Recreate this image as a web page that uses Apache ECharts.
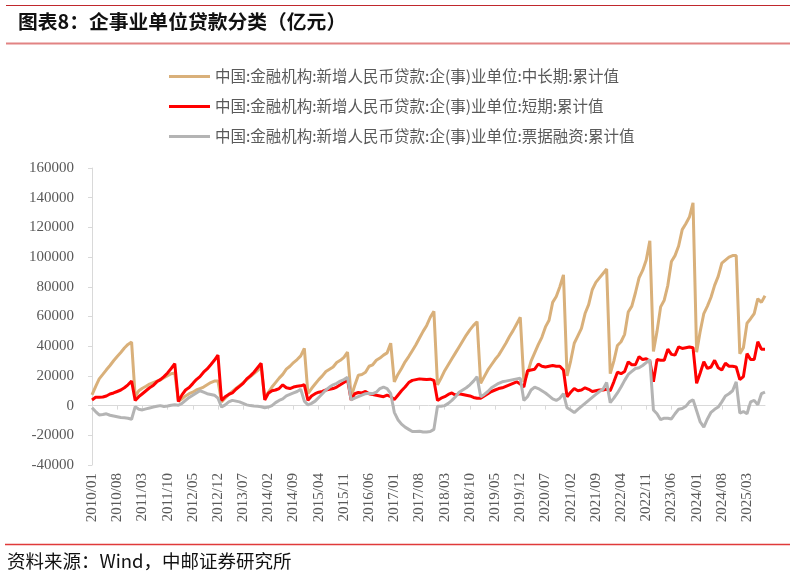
<!DOCTYPE html>
<html>
<head>
<meta charset="utf-8">
<script src="https://cdn.jsdelivr.net/npm/echarts@6/dist/echarts.min.js"></script>
<style>
html,body{margin:0;padding:0;background:#fff;}
#chart{width:796px;height:579px;}
</style>
</head>
<body>
<div id="chart"></div>
<script>
// ---- data (亿元), monthly cumulative, 2010/01 - 2025/08 ----
var startYear = 2010, endYear = 2025, endMonth = 8;
var categories = [];
for (var y = startYear; y <= endYear; y++) {
  for (var m = 1; m <= 12; m++) {
    if (y === endYear && m > endMonth) break;
    categories.push(y + '/' + (m < 10 ? '0' + m : m));
  }
}

var longTerm = [
  7200, 12800, 18000, 21000, 24100, 27000, 30200, 33100, 35800, 38800, 41200, 42800,
  6000, 10000, 11700, 13000, 14500, 15500, 16500, 17300, 18800, 20200, 21500, 22000,
  3000, 4500, 6500, 8000, 9000, 10500, 11500, 12500, 14000, 15500, 16500, 16500,
  2500, 5000, 7500, 9500, 11500, 13500, 15500, 17500, 19500, 21500, 23500, 26000,
  5000, 9000, 12500, 15500, 18500, 21000, 24500, 26500, 29000, 31000, 33500, 38500,
  8000, 11500, 14500, 17500, 20000, 23000, 24500, 26000, 29000, 30500, 32500, 36000,
  6000, 13500, 20500, 21000, 22500, 26500, 27500, 30500, 32000, 34000, 35500, 42000,
  16000, 21000, 25000, 29500, 33000, 37000, 41000, 45500, 50000, 54000, 59500, 63500,
  14000, 18500, 23500, 27500, 31500, 35500, 39500, 43500, 47500, 51000, 54000, 56500,
  15000, 19500, 24000, 27500, 31000, 34000, 38000, 42000, 46500, 50500, 55000, 59500,
  16000, 21500, 30000, 35500, 41000, 46000, 53000, 57500, 69500, 73500, 80000, 88000,
  20000, 30000, 42000, 47000, 52000, 62000, 68000, 78000, 83000, 86000, 89000, 92000,
  21500, 30000, 40500, 43000, 48000, 63000, 67000, 76000, 86000, 91000, 98000, 111000,
  36500, 50000, 66500, 71000, 81000, 97000, 101000, 107500, 118500, 122500, 127000, 136500,
  36000, 50000, 62000, 67000, 73000, 81000, 87000, 96000, 98000, 100000, 101000, 101000,
  35000, 39000, 55500, 58500, 62000, 72000, 69500, 74000
];

var shortTerm = [
  3800, 5600, 5600, 5800, 6500, 7800, 8500, 9500, 10500, 12000, 14000, 16500,
  3400, 6000, 8000, 10000, 12000, 13500, 16000, 17500, 19500, 22000, 25000, 28200,
  2700, 7200, 10500, 12200, 14800, 17500, 19500, 22500, 24700, 27500, 30500, 34000,
  3400, 6000, 7500, 8500, 11000, 13000, 15000, 18000, 20000, 22500, 25500, 28500,
  3800, 8300, 10000, 10500, 11500, 14000, 12000, 11500, 12500, 13000, 13300, 14000,
  3500, 6500, 8000, 9000, 9500, 10500, 11000, 11500, 12500, 14000, 15500, 17500,
  3800, 8000, 8800, 8500, 9500, 8000, 7500, 7000, 6500, 6000, 7000, 6000,
  4000, 7000, 10000, 12500, 15500, 17000, 17500, 18000, 17800, 17500, 17800, 17000,
  3500, 5000, 6000, 7500, 8500, 7000, 8000, 7500, 7000, 6500, 5500, 5000,
  5000, 6500, 8000, 9500, 10500, 11500, 12000, 13000, 14000, 15000, 16000, 14500,
  12500, 23500, 24000, 24500, 28000, 26500, 26000, 26500, 27000, 26500, 26500, 24000,
  6000, 9000, 11500, 10000, 10500, 12000, 11000, 9500, 10000, 10500, 10500, 11000,
  10000, 16000, 22500, 21500, 23000, 29500, 27500, 27500, 33000, 31000, 31500, 30000,
  16000, 31000, 30500, 30500, 38000, 34500, 34000, 39500, 38500, 39000, 39500, 39000,
  15000, 22000, 29500, 25000, 26000, 30500, 25500, 24000, 28500, 26500, 26500, 26000,
  17500, 19500, 35000, 31000, 31000, 43000, 38000, 38000
];

var billFinancing = [
  -1400, -4000, -6300, -6000, -5500, -6500, -7000, -7500, -8000, -8200, -8500, -9200,
  -700, -2500, -2900, -2200, -1600, -1000, -500, 0, -600, -300, 200, 500,
  200, 1500, 3500, 5500, 7000, 8500, 10000, 9000, 8000, 7500, 7000, 5000,
  -1000, 500, 2500, 3500, 3000, 2500, 1500, 500, 0, -300, -500, -800,
  -1400, -1000, 0, 2000, 3500, 4500, 6500, 7500, 8500, 9500, 11000, 3000,
  500, 1500, 3000, 5500, 8000, 10500, 12500, 14000, 15000, 16500, 17500, 19000,
  3800, 5000, 6000, 7000, 8000, 8300, 8000, 9000, 11500, 12500, 11500, 8000,
  -4500, -9500, -12500, -14500, -16000, -17500, -17500, -17300, -17800, -17800, -17500, -16000,
  -500, -500, 0, 1500, 3500, 6000, 9000, 10500, 12000, 14000, 16500, 19500,
  6000, 7500, 9500, 12000, 13500, 15000, 16000, 16500, 17000, 17500, 18000, 18500,
  3500, 6000, 10500, 12500, 11500, 10000, 8500, 6500, 4500, 3500, 5000, 8000,
  -1500, -3000, -4700, -2500, -500, 1500, 3500, 5500, 7500, 9500, 11000, 15500,
  2000, 5000, 8500, 12500, 17000, 21000, 23000, 25000, 25500, 27000, 29000, 31000,
  -3000, -5500, -9500, -8500, -8500, -9000, -5500, -2500, -2000, -500, 2500, 4000,
  -3500, -11000, -14500, -9000, -4500, -2500, -1000, 2500, 6500, 8000, 10000, 16000,
  -5000, -4000, -5500, 2500, 3500, 500, 8000, 9000
];

var seriesNames = [
  '中国:金融机构:新增人民币贷款:企(事)业单位:中长期:累计值',
  '中国:金融机构:新增人民币贷款:企(事)业单位:短期:累计值',
  '中国:金融机构:新增人民币贷款:企(事)业单位:票据融资:累计值'
];
var titleText = '图表8：企事业单位贷款分类（亿元）';
var sourceText = '资料来源：Wind，中邮证券研究所';

// ---- chart ----
var chart = echarts.init(document.getElementById('chart'), null, {renderer: 'canvas'});
var serifFont = '"Liberation Serif", "Times New Roman", serif';
var cjkFont = '"Noto Sans CJK SC", sans-serif';
var axisGray = '#D9D9D9';
var labelGray = '#595959';

var option = {
  animation: false,
  backgroundColor: '#ffffff',
  color: ['#D9B07A', '#FF0000', '#B4B4B4'],
  grid: {left: 92, right: 31, top: 168, bottom: 114, containLabel: false},
  legend: {
    orient: 'vertical',
    left: 164,
    top: 62,
    icon: 'rect',
    itemWidth: 41,
    itemHeight: 3,
    itemGap: 11,
    padding: 5,
    textStyle: {fontFamily: cjkFont, fontSize: 15.5, color: labelGray, lineHeight: 19},
    data: seriesNames
  },
  xAxis: [
    {
      type: 'category',
      data: categories,
      boundaryGap: false,
      position: 'bottom',
      axisLine: {show: false, onZero: false},
      axisTick: {show: false},
      splitLine: {show: false},
      axisLabel: {
        interval: 6,
        rotate: 90,
        margin: 8,
        fontFamily: serifFont,
        fontSize: 15,
        color: labelGray
      }
    },
    {
      type: 'category',
      data: categories,
      boundaryGap: false,
      position: 'bottom',
      axisLine: {show: true, onZero: true, lineStyle: {color: axisGray, width: 1}},
      axisTick: {show: true, interval: 6, length: 4, lineStyle: {color: axisGray}},
      axisLabel: {show: false},
      splitLine: {show: false}
    }
  ],
  yAxis: {
    type: 'value',
    min: -40000,
    max: 160000,
    interval: 20000,
    axisLine: {show: true, lineStyle: {color: axisGray, width: 1}},
    axisTick: {show: true, length: 4, lineStyle: {color: axisGray}},
    splitLine: {show: false},
    axisLabel: {
      margin: 18,
      fontFamily: serifFont,
      fontSize: 15,
      color: labelGray,
      formatter: function (v) { return String(v); }
    }
  },
  series: [
    {name: seriesNames[0], type: 'line', data: longTerm, symbol: 'none', lineStyle: {width: 3, color: '#D9B07A'}, itemStyle: {color: '#D9B07A'}},
    {name: seriesNames[1], type: 'line', data: shortTerm, symbol: 'none', lineStyle: {width: 3, color: '#FF0000'}, itemStyle: {color: '#FF0000'}},
    {name: seriesNames[2], type: 'line', data: billFinancing, symbol: 'none', lineStyle: {width: 3, color: '#B4B4B4'}, itemStyle: {color: '#B4B4B4'}}
  ],
  graphic: [
    {type: 'line', shape: {x1: 6, y1: 5.5, x2: 790, y2: 5.5}, style: {stroke: '#C0282D', lineWidth: 1.2}},
    {type: 'text', left: 18, top: 12, style: {text: titleText, fontFamily: cjkFont, fontSize: 19.8, fontWeight: 'bold', fill: '#111111'}},
    {type: 'line', shape: {x1: 6, y1: 43.5, x2: 790, y2: 43.5}, style: {stroke: '#E28383', lineWidth: 2.2}},
    {type: 'line', shape: {x1: 5, y1: 544.5, x2: 790, y2: 544.5}, style: {stroke: '#E03A3A', lineWidth: 1.3}},
    {type: 'text', left: 7, top: 552, style: {text: sourceText, fontFamily: cjkFont, fontSize: 18.5, fill: '#111111'}}
  ]
};
chart.setOption(option);
</script>
</body>
</html>
